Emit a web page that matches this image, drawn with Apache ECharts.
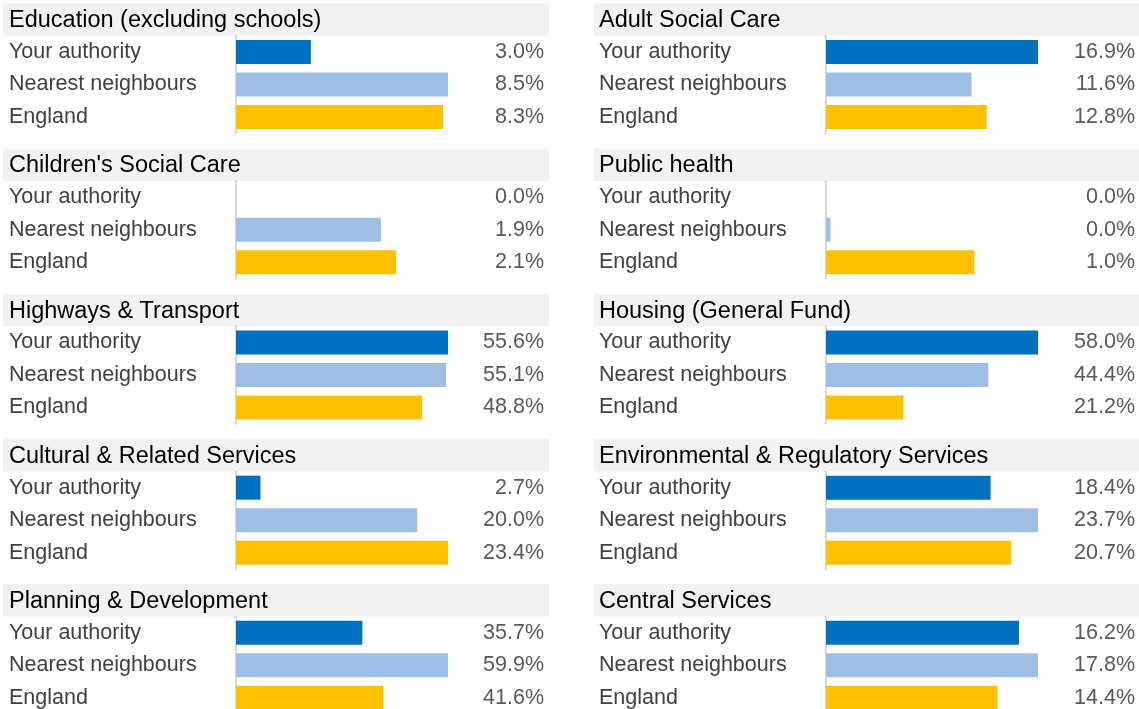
<!DOCTYPE html>
<html>
<head>
<meta charset="utf-8">
<script src="https://cdn.jsdelivr.net/npm/echarts@6/dist/echarts.min.js"></script>
<style>
  html, body { margin: 0; padding: 0; background: #fff; }
  #main { width: 1139px; height: 709px; }
</style>
</head>
<body>
<div id="main"></div>
<script>
// panels in reading order: left, right, left, right ...
var panelTitles = [
  'Education (excluding schools)', 'Adult Social Care',
  "Children's Social Care", 'Public health',
  'Highways & Transport', 'Housing (General Fund)',
  'Cultural & Related Services', 'Environmental & Regulatory Services',
  'Planning & Development', 'Central Services'
];
var categories = ['Your authority', 'Nearest neighbours', 'England'];

var yourAuthority     = [3.0, 16.9, 0.0, 0.0,  55.6, 58.0, 2.7,  18.4, 35.7, 16.2];
var nearestNeighbours = [8.5, 11.6, 1.9, 0.03, 55.1, 44.4, 20.0, 23.7, 59.9, 17.8];
var england           = [8.3, 12.8, 2.1, 1.0,  48.8, 21.2, 23.4, 20.7, 41.6, 14.4];
// axis maximum of each little chart
var scaleMax          = [8.5, 16.9, 2.78, 1.43, 55.6, 58.0, 23.4, 23.7, 59.9, 17.8];

var barColors = ['#0070c0', '#9ebfe5', '#ffc000'];
var font = '"Liberation Sans", Arial, sans-serif';

var chart = echarts.init(document.getElementById('main'));

var colX = [3, 594];      // header band left
var bandW = [546, 545];
var labelX = [9, 599];
var plotLeft = [236, 826];
var plotW = 212;
var valueRight = [544, 1135];
var rowPitch = 145.2;
var bandH = 32.5;

var grids = [], xAxes = [], yAxes = [], series = [], titles = [], graphics = [];

for (var i = 0; i < panelTitles.length; i++) {
  var col = i % 2;
  var row = Math.floor(i / 2);
  var bandTop = 3.3 + row * rowPitch;
  var vals = [yourAuthority[i], nearestNeighbours[i], england[i]];

  graphics.push({
    type: 'rect', z: -10,
    shape: { x: colX[col], y: bandTop, width: bandW[col], height: bandH },
    style: { fill: '#f2f2f2' }
  });
  titles.push({
    text: panelTitles[i],
    left: labelX[col], top: bandTop + 5.5, padding: 0,
    textStyle: { fontFamily: font, fontSize: 23.5, fontWeight: 'normal', color: '#000' }
  });

  grids.push({
    left: plotLeft[col], top: bandTop + bandH, width: plotW, height: 3 * bandH,
    outerBoundsMode: 'none'
  });
  xAxes.push({
    type: 'value', gridIndex: i, min: 0, max: scaleMax[i], show: false
  });
  yAxes.push({
    type: 'category', gridIndex: i, data: categories, inverse: true,
    axisLine: { show: true, lineStyle: { color: '#d9d9d9', width: 2 } },
    axisTick: { show: true, length: 2, lineStyle: { color: '#d9d9d9' } },
    axisLabel: {
      align: 'left', margin: plotLeft[col] - labelX[col],
      fontFamily: font, fontSize: 21.5, color: '#404040'
    }
  });
  yAxes.push({
    type: 'category', gridIndex: i, data: categories, inverse: true, position: 'right',
    axisLine: { show: false }, axisTick: { show: false },
    axisLabel: {
      align: 'right', margin: valueRight[col] - plotLeft[col] - plotW,
      fontFamily: font, fontSize: 21.5, color: '#595959',
      formatter: (function (v) {
        return function (val, idx) { return v[idx].toFixed(1) + '%'; };
      })(vals)
    }
  });
  series.push({
    type: 'bar', xAxisIndex: i, yAxisIndex: 2 * i,
    barWidth: 24, silent: true,
    data: vals,
    itemStyle: { color: function (p) { return barColors[p.dataIndex]; } }
  });
}

chart.setOption({
  backgroundColor: '#fff',
  animation: false,
  title: titles,
  grid: grids,
  xAxis: xAxes,
  yAxis: yAxes,
  series: series,
  graphic: graphics
});
</script>
</body>
</html>
